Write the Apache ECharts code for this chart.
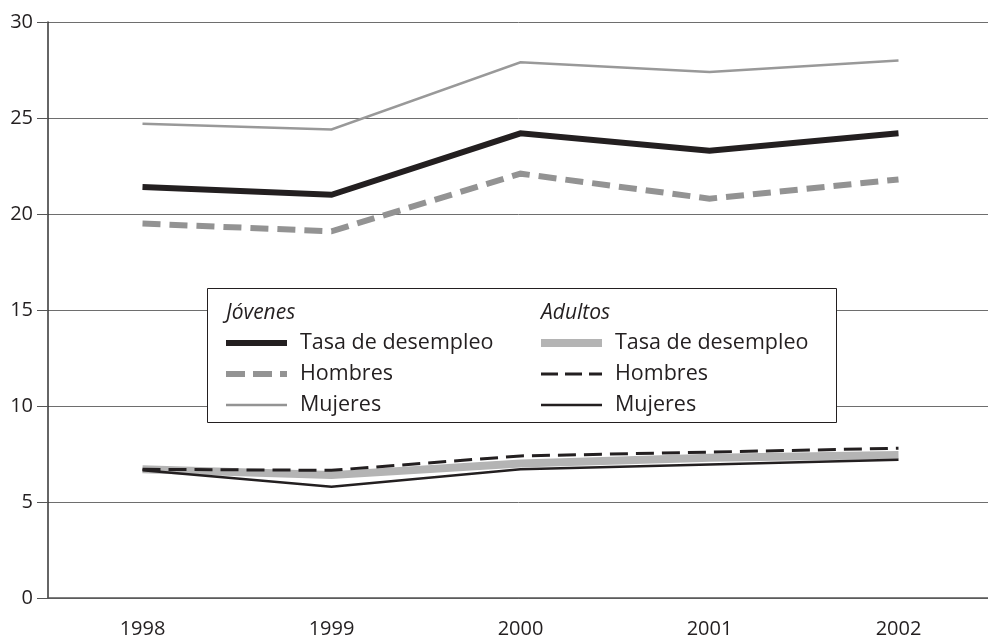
<!DOCTYPE html>
<html lang="es">
<head>
<meta charset="UTF-8">
<title>Tasa de desempleo</title>
<script src="https://cdn.jsdelivr.net/npm/echarts@6/dist/echarts.min.js"></script>
<style>
  html, body { margin: 0; padding: 0; background: #fff; }
</style>
</head>
<body>
<div id="main" style="width: 988px;height:638px;"></div>

<script type="text/javascript">
    // datos
    var years = ['1998', '1999', '2000', '2001', '2002'];
    var jovenesTasa = [21.4, 21.0, 24.2, 23.3, 24.2];
    var jovenesHombres = [19.5, 19.1, 22.1, 20.8, 21.8];
    var jovenesMujeres = [24.7, 24.4, 27.9, 27.4, 28.0];
    var adultosTasa = [6.7, 6.4, 7.0, 7.3, 7.45];
    var adultosHombres = [6.7, 6.65, 7.4, 7.6, 7.8];
    var adultosMujeres = [6.65, 5.8, 6.7, 6.95, 7.2];

    var negro = '#231f20';
    var grisOscuro = '#939393';
    var grisClaro = '#b4b4b4';
    var fuente = '"Open Sans", "Noto Sans", sans-serif';

    function serie(name, data, color, width, type) {
        return {
            name: name,
            type: 'line',
            data: data,
            symbol: 'none',
            animation: false,
            silent: true,
            lineStyle: { color: color, width: width, type: type || 'solid', cap: 'butt', join: 'miter' }
        };
    }

    // leyenda dibujada a mano (dos columnas con titulo)
    function leyenda() {
        var els = [];
        els.push({ type: 'rect', shape: { x: 207.5, y: 288.5, width: 629, height: 134 },
            style: { fill: '#fff', stroke: negro, lineWidth: 1 }, z: 100 });
        var cols = [
            { x: 226, titulo: 'Jóvenes', items: [
                ['Tasa de desempleo', negro, 6, null],
                ['Hombres', grisOscuro, 6, [19, 8]],
                ['Mujeres', grisOscuro, 2.5, null]] },
            { x: 541, titulo: 'Adultos', items: [
                ['Tasa de desempleo', grisClaro, 8, null],
                ['Hombres', negro, 3, [17, 7]],
                ['Mujeres', negro, 2.5, null]] }
        ];
        cols.forEach(function (c) {
            els.push({ type: 'text', x: c.x, y: 313, z: 101,
                style: { text: c.titulo, font: 'italic 21px ' + fuente, fill: negro, verticalAlign: 'middle' } });
            c.items.forEach(function (it, i) {
                var y = 343 + i * 31;
                els.push({ type: 'line', z: 101, shape: { x1: c.x, y1: y, x2: c.x + 61, y2: y },
                    style: { stroke: it[1], lineWidth: it[2], lineDash: it[3], lineCap: 'butt' } });
                els.push({ type: 'text', x: c.x + 74, y: y, z: 101,
                    style: { text: it[0], font: '21.5px ' + fuente, fill: negro, verticalAlign: 'middle' } });
            });
        });
        return els;
    }

    var myChart = echarts.init(document.getElementById('main'));
    var option = {
        backgroundColor: '#fff',
        animation: false,
        grid: { left: 48, width: 945, top: 22, bottom: 40, containLabel: false, outerBoundsMode: 'none' },
        xAxis: {
            type: 'category',
            data: years,
            boundaryGap: true,
            axisLine: { lineStyle: { color: '#555', width: 1.5 } },
            axisTick: { alignWithLabel: true, length: 13, lineStyle: { color: '#333' } },
            axisLabel: { color: negro, fontSize: 20, fontFamily: fuente, margin: 21 },
            splitLine: { show: false }
        },
        yAxis: {
            type: 'value',
            min: 0,
            max: 30,
            interval: 5,
            axisLine: { show: true, lineStyle: { color: '#333', width: 1.5 } },
            axisTick: { show: true, length: 11, lineStyle: { color: '#555' } },
            axisLabel: { color: negro, fontSize: 20, fontFamily: fuente, margin: 15 },
            splitLine: { lineStyle: { color: '#6e6e6e', width: 1 } }
        },
        graphic: leyenda(),
        series: [
            serie('Adultos Tasa de desempleo', adultosTasa, grisClaro, 8),
            serie('Adultos Mujeres', adultosMujeres, negro, 2.5),
            serie('Adultos Hombres', adultosHombres, negro, 3, [18, 8]),
            serie('Jóvenes Mujeres', jovenesMujeres, '#999', 2.5),
            serie('Jóvenes Hombres', jovenesHombres, grisOscuro, 6, [18, 9]),
            serie('Jóvenes Tasa de desempleo', jovenesTasa, negro, 6)
        ]
    };
    myChart.setOption(option);
</script>
</body>
</html>
